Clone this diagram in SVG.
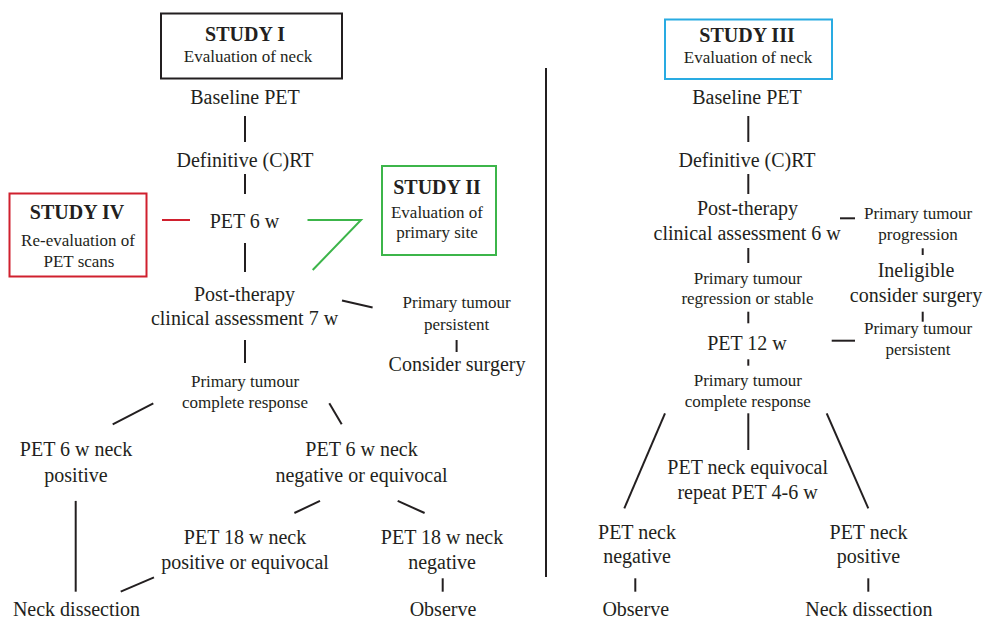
<svg xmlns="http://www.w3.org/2000/svg" width="986" height="619" viewBox="0 0 986 619">
<style>
text{font-family:"Liberation Serif","Times New Roman",serif;fill:#231f20;text-anchor:middle}
.m{font-size:20px}
.s{font-size:17px}
.t{font-size:20px;font-weight:bold}
.ln{stroke:#231f20;stroke-width:2;fill:none}
.box{fill:#fff;stroke-width:2}
</style>
<rect width="986" height="619" fill="#fff"/>
<g id="connectors">
<line class="ln" x1="245" y1="116" x2="245" y2="142"/>
<line class="ln" x1="245" y1="174" x2="245" y2="194"/>
<line x1="162" y1="220" x2="190" y2="220" stroke="#d0202e" stroke-width="2"/>
<polyline points="307.5,220 361,220 312.7,270" fill="none" stroke="#3cb54a" stroke-width="2"/>
<line class="ln" x1="245" y1="243" x2="245" y2="272"/>
<line class="ln" x1="342" y1="300.5" x2="372.6" y2="307.4"/>
<line class="ln" x1="456.6" y1="340" x2="456.6" y2="352"/>
<line class="ln" x1="245" y1="340" x2="245" y2="363"/>
<line class="ln" x1="153.3" y1="403.3" x2="112.7" y2="424.3"/>
<line class="ln" x1="329.3" y1="403.3" x2="341.7" y2="424.3"/>
<line class="ln" x1="320" y1="500.9" x2="294.4" y2="513"/>
<line class="ln" x1="397.7" y1="500.9" x2="424.6" y2="513"/>
<line class="ln" x1="75.7" y1="500.9" x2="75.7" y2="591.7"/>
<line class="ln" x1="154" y1="577.3" x2="120.7" y2="591.7"/>
<line class="ln" x1="442.7" y1="578.3" x2="442.7" y2="591.7"/>
<line class="ln" x1="546" y1="68" x2="546" y2="577"/>
<line class="ln" x1="748.3" y1="116" x2="748.3" y2="142"/>
<line class="ln" x1="748.3" y1="174" x2="748.3" y2="194"/>
<line class="ln" x1="840" y1="218.3" x2="855" y2="218.3"/>
<line class="ln" x1="922.7" y1="248.3" x2="922.7" y2="255"/>
<line class="ln" x1="748.3" y1="248" x2="748.3" y2="263"/>
<line class="ln" x1="922.7" y1="311.7" x2="922.7" y2="321.7"/>
<line class="ln" x1="748.3" y1="311.7" x2="748.3" y2="323.3"/>
<line class="ln" x1="831.7" y1="340.7" x2="855" y2="340.7"/>
<line class="ln" x1="748.3" y1="359.3" x2="748.3" y2="365.7"/>
<line class="ln" x1="665" y1="413.3" x2="624.3" y2="508.3"/>
<line class="ln" x1="748.3" y1="413.3" x2="748.3" y2="450"/>
<line class="ln" x1="826.7" y1="413.3" x2="868.3" y2="508.3"/>
<line class="ln" x1="635.3" y1="578.3" x2="635.3" y2="591.7"/>
<line class="ln" x1="868.3" y1="578.3" x2="868.3" y2="591.7"/>
</g>
<g id="study1">
<rect class="box" x="161" y="13.5" width="181" height="65" stroke="#231f20"/>
<text class="t" x="245" y="41">STUDY I</text>
<text class="s" x="248" y="62">Evaluation of neck</text>
</g>
<g id="study4">
<rect class="box" x="9.5" y="193.5" width="137" height="83" stroke="#d0202e"/>
<text class="t" x="77" y="218.5">STUDY IV</text>
<text class="s" x="78" y="245.5">Re-evaluation of</text>
<text class="s" x="79" y="266.5">PET scans</text>
</g>
<g id="study2">
<rect class="box" x="382" y="166" width="114" height="89" stroke="#3cb54a"/>
<text class="t" x="437" y="194">STUDY II</text>
<text class="s" x="437" y="218">Evaluation of</text>
<text class="s" x="437" y="238">primary site</text>
</g>
<g id="study3">
<rect class="box" x="665" y="19.5" width="167" height="59.5" stroke="#29abe2"/>
<text class="t" x="747" y="41.5">STUDY III</text>
<text class="s" x="748" y="63">Evaluation of neck</text>
</g>
<g id="l-baseline"><text class="m" x="245" y="104">Baseline PET</text></g>
<g id="l-crt"><text class="m" x="245" y="167">Definitive (C)RT</text></g>
<g id="l-pet6"><text class="m" x="244.5" y="228">PET 6 w</text></g>
<g id="l-post"><text class="m" x="244.5" y="301">Post-therapy</text><text class="m" x="244.5" y="324.5">clinical assessment 7 w</text></g>
<g id="l-persist"><text class="s" x="456.6" y="307.5">Primary tumour</text><text class="s" x="456.6" y="330">persistent</text></g>
<g id="l-surgery"><text class="m" x="457" y="371">Consider surgery</text></g>
<g id="l-complete"><text class="s" x="245" y="387">Primary tumour</text><text class="s" x="245" y="408">complete response</text></g>
<g id="l-pos6"><text class="m" x="76" y="456">PET 6 w neck</text><text class="m" x="76" y="482">positive</text></g>
<g id="l-neg6"><text class="m" x="361.5" y="456">PET 6 w neck</text><text class="m" x="361.5" y="482">negative or equivocal</text></g>
<g id="l-pos18"><text class="m" x="245" y="544">PET 18 w neck</text><text class="m" x="245" y="569">positive or equivocal</text></g>
<g id="l-neg18"><text class="m" x="442" y="544">PET 18 w neck</text><text class="m" x="442" y="569">negative</text></g>
<g id="l-neck1"><text class="m" x="76.5" y="616">Neck dissection</text></g>
<g id="l-obs1"><text class="m" x="443" y="616">Observe</text></g>
<g id="r-baseline"><text class="m" x="747" y="104">Baseline PET</text></g>
<g id="r-crt"><text class="m" x="747" y="167">Definitive (C)RT</text></g>
<g id="r-post"><text class="m" x="747.5" y="215">Post-therapy</text><text class="m" x="747.2" y="240">clinical assessment 6 w</text></g>
<g id="r-prog"><text class="s" x="918" y="218.5">Primary tumour</text><text class="s" x="918" y="240">progression</text></g>
<g id="r-inelig"><text class="m" x="916" y="277">Ineligible</text><text class="m" x="916" y="302">consider surgery</text></g>
<g id="r-regr"><text class="s" x="747.8" y="283.5">Primary tumour</text><text class="s" x="747.5" y="304">regression or stable</text></g>
<g id="r-persist"><text class="s" x="918" y="334">Primary tumour</text><text class="s" x="918" y="355">persistent</text></g>
<g id="r-pet12"><text class="m" x="747" y="350">PET 12 w</text></g>
<g id="r-complete"><text class="s" x="747.8" y="386">Primary tumour</text><text class="s" x="747.8" y="407">complete response</text></g>
<g id="r-equiv"><text class="m" x="747.7" y="473.5">PET neck equivocal</text><text class="m" x="747.5" y="498.5">repeat PET 4-6 w</text></g>
<g id="r-neg"><text class="m" x="637" y="538.5">PET neck</text><text class="m" x="637" y="563">negative</text></g>
<g id="r-pos"><text class="m" x="868.5" y="538.5">PET neck</text><text class="m" x="868.5" y="563">positive</text></g>
<g id="r-obs"><text class="m" x="635.7" y="616">Observe</text></g>
<g id="r-neck"><text class="m" x="868.8" y="616">Neck dissection</text></g>
</svg>
